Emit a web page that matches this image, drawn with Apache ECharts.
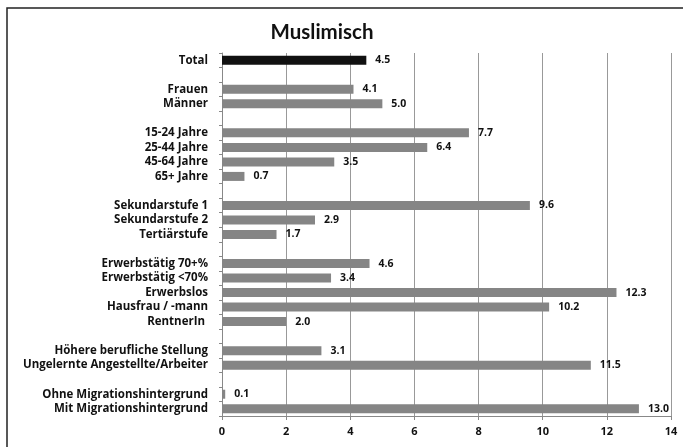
<!DOCTYPE html>
<html>
<head>
<meta charset="utf-8">
<script src="https://cdn.jsdelivr.net/npm/echarts@6/dist/echarts.min.js"></script>
<style>
  html, body { margin: 0; padding: 0; background: #fff; }
  #chart { width: 683px; height: 447px; }
</style>
</head>
<body>
<div id="chart"></div>
<script>
// leere Einträge = Abstand zwischen den Gruppen
const categories = [
  'Total', '',
  'Frauen', 'Männer', '',
  '15-24 Jahre', '25-44 Jahre', '45-64 Jahre', '65+ Jahre', '',
  'Sekundarstufe 1', 'Sekundarstufe 2', 'Tertiärstufe', '',
  'Erwerbstätig 70+%', 'Erwerbstätig <70%', 'Erwerbslos', 'Hausfrau / -mann', 'RentnerIn ', '',
  'Höhere berufliche Stellung', 'Ungelernte Angestellte/Arbeiter', '',
  'Ohne Migrationshintergrund', 'Mit Migrationshintergrund'
]
const values = [
  4.5, null,
  4.1, 5.0, null,
  7.7, 6.4, 3.5, 0.7, null,
  9.6, 2.9, 1.7, null,
  4.6, 3.4, 12.3, 10.2, 2.0, null,
  3.1, 11.5, null,
  0.1, 13.0
]
const xTicks = [0, 2, 4, 6, 8, 10, 12, 14]

const font = '"Open Sans", Lato, sans-serif'

let myChart = echarts.init(document.getElementById('chart'))
myChart.setOption({
  animation: false,
  backgroundColor: '#fff',
  title: {
    text: 'Muslimisch',
    left: 317,
    top: 17,
    textAlign: 'center',
    textStyle: { fontFamily: 'Lato, sans-serif', fontWeight: 'bold', fontSize: 20.5, color: '#111' }
  },
  graphic: [{
    type: 'rect',
    shape: { x: 7, y: 8, width: 700, height: 460 },
    style: { fill: 'none', stroke: '#222', lineWidth: 1.5 },
    silent: true
  }],
  grid: { left: 222, right: 12, top: 53, bottom: 31 },
  xAxis: {
    type: 'value',
    min: xTicks[0],
    max: xTicks[xTicks.length - 1],
    interval: 2,
    axisLine: { show: true, lineStyle: { color: '#888' } },
    axisTick: { show: true, length: 4, lineStyle: { color: '#888' } },
    splitLine: { show: true, lineStyle: { color: '#999', width: 1 } },
    axisLabel: { fontFamily: font, fontWeight: 'bold', fontSize: 11, color: '#111', margin: 10 }
  },
  yAxis: {
    type: 'category',
    inverse: true,
    data: categories,
    axisLine: { show: true, lineStyle: { color: '#888' } },
    axisTick: { show: true, length: 3, interval: 0, lineStyle: { color: '#888' } },
    axisLabel: { interval: 0, fontFamily: font, fontWeight: 'bold', fontSize: 11.5, color: '#111', margin: 14 }
  },
  series: [{
    type: 'bar',
    barWidth: 9,
    data: values.map((v, i) => ({
      value: v,
      itemStyle: { color: i === 0 ? '#111' : '#858585' }
    })),
    label: {
      show: true,
      position: 'right',
      distance: 9,
      fontFamily: font,
      fontWeight: 'bold',
      fontSize: 10.5,
      color: '#111',
      formatter: p => p.value == null ? '' : p.value.toFixed(1)
    }
  }]
})
</script>
</body>
</html>
